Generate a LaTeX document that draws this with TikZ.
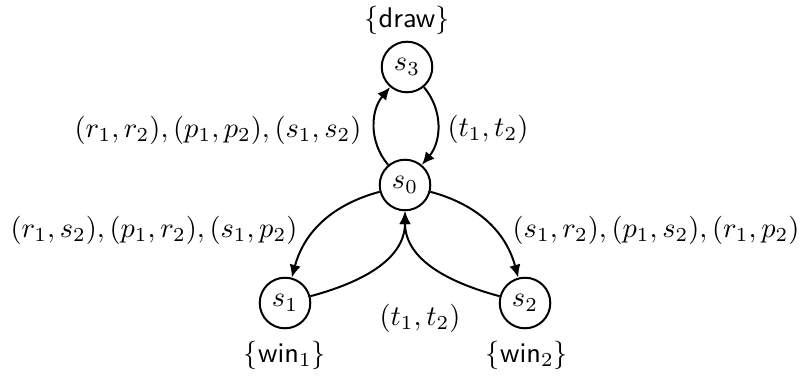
\documentclass[tikz,border=0pt]{standalone}
\usetikzlibrary{arrows.meta}
\begin{document}
\begin{tikzpicture}[x=0.352pt,y=-0.352pt,
  state/.style={circle,draw,line width=0.7pt,minimum size=17.8pt,inner sep=0pt},
  tr/.style={line width=0.7pt,-{Latex[length=4.5pt,width=4pt]}},
  lab/.style={inner sep=0pt}]
\useasboundingbox (0,0) rectangle (802,376);
\node[state] (s3) at (407,67) {$s_3$};
\node[state] (s0) at (405,185) {$s_0$};
\node[state] (s1) at (285,303) {$s_1$};
\node[state] (s2) at (525,303) {$s_2$};
\node[lab] (ld) at (407,20) {$\{\textsf{draw}\}$};
\node[lab] (lw1) at (285,355) {$\{\textsf{win}_1\}$};
\node[lab] (lw2) at (527,355) {$\{\textsf{win}_2\}$};
\draw[tr] (s0) to[out=130,in=230] (s3);
\draw[tr] (s3) to[out=-50,in=50] (s0);
\draw[tr] (s0) to[out=195,in=75] (s1);
\draw[tr] (s0) to[out=-15,in=105] (s2);
\draw[tr] (s1) to[out=15,in=-90] (s0);
\draw[tr] (s2) to[out=165,in=-90] (s0);
\node[lab,anchor=east] (l03) at (362,130) {$(r_1,r_2),(p_1,p_2),(s_1,s_2)$};
\node[lab,anchor=west] (l30) at (447,129) {$(t_1,t_2)$};
\node[lab] (l01) at (154,230) {$(r_1,s_2),(p_1,r_2),(s_1,p_2)$};
\node[lab] (l02) at (656,230) {$(s_1,r_2),(p_1,s_2),(r_1,p_2)$};
\node[lab] (l10) at (420,318) {$(t_1,t_2)$};
\end{tikzpicture}
\end{document}
